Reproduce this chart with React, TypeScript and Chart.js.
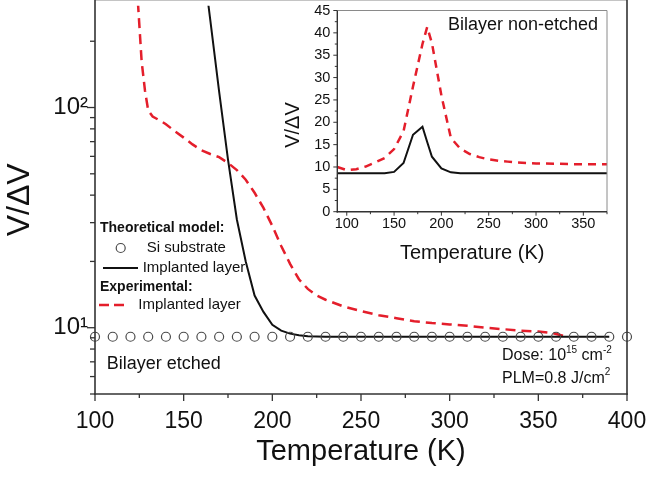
import React, { useEffect, useRef } from 'react';
import { Chart, registerables } from 'chart.js';

Chart.register(...registerables);

// ---------- Main chart data (Bilayer etched) ----------
const siTemps = [100, 110, 120, 130, 140, 150, 160, 170, 180, 190, 200, 210, 220, 230, 240, 250, 260, 270, 280, 290, 300, 310, 320, 330, 340, 350, 360, 370, 380, 390, 400];
const siValues = [9.1, 9.1, 9.1, 9.1, 9.1, 9.1, 9.1, 9.1, 9.1, 9.1, 9.1, 9.1, 9.1, 9.1, 9.1, 9.1, 9.1, 9.1, 9.1, 9.1, 9.1, 9.1, 9.1, 9.1, 9.1, 9.1, 9.1, 9.1, 9.1, 9.1, 9.1];

const theoTemps = [160, 165, 170, 175, 180, 185, 190, 195, 200, 205, 210, 215, 220, 230, 240, 250, 260, 270, 280, 290, 300, 310, 320, 330, 340, 350, 360, 370, 380, 390];
const theoValues = [525, 250, 118, 58, 31, 20, 14, 11.8, 10.3, 9.7, 9.4, 9.25, 9.15, 9.1, 9.1, 9.1, 9.1, 9.1, 9.1, 9.1, 9.1, 9.1, 9.1, 9.1, 9.1, 9.1, 9.1, 9.1, 9.1, 9.1];

const expTemps = [123, 124.3, 126.3, 128.2, 130, 132.5, 137.5, 140, 145, 150, 155, 160, 165, 170, 175, 180, 185, 190, 195, 200, 205, 210, 215, 220, 225, 230, 240, 250, 260, 270, 280, 290, 300, 310, 320, 330, 340, 350, 358, 366];
const expValues = [420, 292, 162, 119, 97, 91, 86.5, 84, 78, 73, 68, 64, 61.5, 59.5, 56, 52, 47, 41, 35, 29, 23.5, 19.5, 16.6, 15, 14, 13.4, 12.5, 11.9, 11.4, 11.05, 10.7, 10.5, 10.35, 10.2, 10.0, 9.85, 9.7, 9.6, 9.45, 9.1];

const mainLogTickLabels: Record<number, string> = { 10: '10¹', 100: '10²' };

// ---------- Inset data (Bilayer non-etched) ----------
const insetTemps = [90, 100, 110, 120, 130, 140, 150, 160, 170, 180, 185, 190, 200, 210, 220, 230, 240, 250, 260, 270, 280, 290, 300, 325, 350, 375];
const insetExp = [10.0, 9.3, 9.5, 10.1, 11.0, 12.0, 14.0, 18.0, 28.0, 37.5, 41.3, 37.7, 26.0, 16.5, 14.1, 12.9, 12.2, 11.7, 11.4, 11.2, 11.0, 10.9, 10.8, 10.7, 10.6, 10.6];
const insetTheo = [8.6, 8.6, 8.6, 8.6, 8.6, 8.6, 8.9, 10.9, 17.2, 19.0, 15.6, 12.3, 9.7, 8.8, 8.6, 8.6, 8.6, 8.6, 8.6, 8.6, 8.6, 8.6, 8.6, 8.6, 8.6, 8.6];

const FONT = '"Liberation Sans", Arial, Helvetica, sans-serif';
const RED = '#e41e2b';
const BLACK = '#111111';
const AXIS = '#333333';

const pts = (xs: number[], ys: number[]) => xs.map((x, i) => ({ x, y: ys[i] }));

function seg(ctx: CanvasRenderingContext2D, x1: number, y1: number, x2: number, y2: number) {
  ctx.beginPath();
  ctx.moveTo(x1, y1);
  ctx.lineTo(x2, y2);
  ctx.stroke();
}

const mainDeco = {
  id: 'mainDeco',
  afterDraw(chart: any) {
    const { ctx, chartArea } = chart;
    const { left, right, bottom } = chartArea;
    const xs = chart.scales.x;
    const ys = chart.scales.y;
    ctx.save();
    // frame
    ctx.strokeStyle = '#c4c4c4';
    ctx.lineWidth = 1;
    seg(ctx, left, 0.5, right, 0.5);
    ctx.strokeStyle = AXIS;
    ctx.lineWidth = 1.6;
    seg(ctx, left, 0, left, bottom + 0.8);
    seg(ctx, left - 0.8, bottom, right + 0.8, bottom);
    seg(ctx, right, 0, right, bottom + 0.8);
    // ticks
    ctx.lineWidth = 1.3;
    xs.ticks.forEach((t: any) => {
      const px = xs.getPixelForValue(t.value);
      const len = t.value % 50 === 0 ? 7 : 4;
      seg(ctx, px, bottom, px, bottom + len);
    });
    ys.ticks.forEach((t: any) => {
      const v = t.value;
      const e = Math.floor(Math.log10(v) + 1e-9);
      const m = v / Math.pow(10, e);
      if (Math.abs(m - Math.round(m)) > 1e-6) return;
      const py = ys.getPixelForValue(v);
      const len = Math.round(m) === 1 ? 8 : 5;
      seg(ctx, left - len, py, left, py);
    });

    // legend
    const ds = chart.data.datasets;
    ctx.fillStyle = BLACK;
    ctx.textBaseline = 'middle';
    ctx.textAlign = 'left';
    ctx.font = `bold 14px ${FONT}`;
    ctx.fillText('Theoretical model:', 100, 228);
    ctx.beginPath();
    ctx.arc(120.7, 248, 4.5, 0, Math.PI * 2);
    ctx.strokeStyle = ds[0].pointBorderColor;
    ctx.lineWidth = 1.2;
    ctx.stroke();
    ctx.font = `15px ${FONT}`;
    ctx.fillText(ds[0].label, 146.7, 248);
    ctx.strokeStyle = ds[1].borderColor;
    ctx.lineWidth = 2;
    seg(ctx, 103, 268, 138, 268);
    ctx.fillText(ds[1].label, 142.7, 268);
    ctx.font = `bold 14px ${FONT}`;
    ctx.fillText('Experimental:', 100, 286.7);
    ctx.strokeStyle = ds[2].borderColor;
    ctx.lineWidth = 2.5;
    ctx.setLineDash([10, 5]);
    seg(ctx, 99, 305, 125, 305);
    ctx.setLineDash([]);
    ctx.font = `15px ${FONT}`;
    ctx.fillText(ds[2].label, 138.3, 305);

    // annotations
    ctx.font = `18px ${FONT}`;
    ctx.fillText('Bilayer etched', 106.7, 364);

    const drawRich = (parts: [string, boolean][], x: number, y: number) => {
      let cx = x;
      parts.forEach(([txt, sup]) => {
        ctx.font = sup ? `10px ${FONT}` : `16px ${FONT}`;
        ctx.fillText(txt, cx, sup ? y - 6 : y);
        cx += ctx.measureText(txt).width;
      });
    };
    drawRich([['Dose: 10', false], ['15', true], [' cm', false], ['-2', true]], 502, 356);
    drawRich([['PLM=0.8 J/cm', false], ['2', true]], 502, 378.5);
    ctx.restore();
  },
};

const insetDeco = {
  id: 'insetDeco',
  afterDraw(chart: any) {
    const { ctx, chartArea } = chart;
    const { left, right, top, bottom } = chartArea;
    const xs = chart.scales.x;
    const ys = chart.scales.y;
    ctx.save();
    ctx.strokeStyle = '#8a8a8a';
    ctx.lineWidth = 1;
    seg(ctx, left, top, right, top);
    seg(ctx, right, top, right, bottom);
    ctx.strokeStyle = AXIS;
    ctx.lineWidth = 1.4;
    seg(ctx, left, top, left, bottom + 0.7);
    seg(ctx, left - 0.7, bottom, right, bottom);
    ctx.lineWidth = 1;
    xs.ticks.forEach((t: any) => {
      const px = xs.getPixelForValue(t.value);
      const len = t.value % 50 === 0 ? 4 : 2.5;
      seg(ctx, px, bottom, px, bottom + len);
    });
    ys.ticks.forEach((t: any) => {
      const py = ys.getPixelForValue(t.value);
      const len = t.value % 5 === 0 ? 4 : 2.5;
      seg(ctx, left - len, py, left, py);
    });
    ctx.fillStyle = BLACK;
    ctx.textBaseline = 'middle';
    ctx.textAlign = 'left';
    ctx.font = `18px ${FONT}`;
    ctx.fillText('Bilayer non-etched', 168, 25);
    // y title
    ctx.translate(13.5, 125);
    ctx.rotate(-Math.PI / 2);
    ctx.textAlign = 'center';
    ctx.font = `20px ${FONT}`;
    ctx.fillText('V/ΔV', 0, 0);
    ctx.restore();
  },
};

export default function App() {
  const mainRef = useRef<HTMLCanvasElement>(null);
  const insetRef = useRef<HTMLCanvasElement>(null);

  useEffect(() => {
    const main = new Chart(mainRef.current as HTMLCanvasElement, {
      type: 'scatter',
      data: {
        datasets: [
          {
            label: 'Si substrate',
            data: pts(siTemps, siValues),
            showLine: false,
            pointRadius: 4.5,
            pointStyle: 'circle',
            pointBorderColor: '#4a4a4a',
            pointBackgroundColor: 'rgba(0,0,0,0)',
            pointBorderWidth: 1.2,
            clip: false,
          } as any,
          {
            label: 'Implanted layer',
            data: pts(theoTemps, theoValues),
            showLine: true,
            borderColor: BLACK,
            borderWidth: 2,
            pointRadius: 0,
            tension: 0,
          },
          {
            label: 'Implanted layer',
            data: pts(expTemps, expValues),
            showLine: true,
            borderColor: RED,
            borderWidth: 2.5,
            borderDash: [10, 6],
            pointRadius: 0,
            tension: 0,
          },
        ],
      },
      options: {
        responsive: false,
        animation: false,
        devicePixelRatio: 1,
        events: [],
        layout: { padding: { left: 0, top: 1, right: 19, bottom: 0 } },
        plugins: { legend: { display: false }, tooltip: { enabled: false } },
        scales: {
          x: {
            type: 'linear',
            position: 'bottom',
            min: 100,
            max: 400,
            grid: { display: false, drawTicks: false },
            border: { display: false },
            ticks: {
              stepSize: 25,
              autoSkip: false,
              maxRotation: 0,
              padding: 13.5,
              color: BLACK,
              font: { family: FONT, size: 23 },
              callback: (v: any) => (Number(v) % 50 === 0 ? String(v) : ''),
            },
            title: {
              display: true,
              text: 'Temperature (K)',
              color: BLACK,
              font: { family: FONT, size: 29 },
              padding: { top: 0, bottom: 9 },
            },
            afterFit: (s: any) => {
              s.height = 84;
              s.paddingLeft = 0;
              s.paddingRight = 0;
            },
          },
          y: {
            type: 'logarithmic',
            position: 'left',
            min: 5,
            max: 290,
            grid: { display: false, drawTicks: false },
            border: { display: false },
            ticks: {
              autoSkip: false,
              padding: 7,
              color: BLACK,
              font: { family: FONT, size: 24 },
              callback: (v: any) => {
                const n = Number(v);
                const key = Object.keys(mainLogTickLabels).find((k) => Math.abs(Number(k) - n) < 1e-9);
                return key ? mainLogTickLabels[Number(key)] : '';
              },
            },
            title: {
              display: true,
              text: 'V/ΔV',
              color: BLACK,
              font: { family: FONT, size: 32 },
              padding: { top: 1, bottom: 0 },
            },
            afterFit: (s: any) => {
              s.width = 95;
              s.paddingTop = 0;
              s.paddingBottom = 0;
            },
          },
        },
      } as any,
      plugins: [mainDeco],
    });

    const inset = new Chart(insetRef.current as HTMLCanvasElement, {
      type: 'scatter',
      data: {
        datasets: [
          {
            label: 'Experimental',
            data: pts(insetTemps, insetExp),
            showLine: true,
            borderColor: RED,
            borderWidth: 2.5,
            borderDash: [8, 6],
            pointRadius: 0,
            tension: 0,
          },
          {
            label: 'Theoretical',
            data: pts(insetTemps, insetTheo),
            showLine: true,
            borderColor: BLACK,
            borderWidth: 2,
            pointRadius: 0,
            tension: 0,
          },
        ],
      },
      options: {
        responsive: false,
        animation: false,
        devicePixelRatio: 1,
        events: [],
        layout: { padding: { left: 0, top: 10.5, right: 19, bottom: 0 } },
        plugins: { legend: { display: false }, tooltip: { enabled: false } },
        scales: {
          x: {
            type: 'linear',
            position: 'bottom',
            min: 90,
            max: 375,
            grid: { display: false, drawTicks: false },
            border: { display: false },
            ticks: {
              stepSize: 25,
              includeBounds: false,
              autoSkip: false,
              maxRotation: 0,
              padding: 3.5,
              color: BLACK,
              font: { family: FONT, size: 14.5 },
              callback: (v: any) => (Number(v) % 50 === 0 ? String(v) : ''),
            },
            title: {
              display: true,
              text: 'Temperature (K)',
              color: BLACK,
              font: { family: FONT, size: 20 },
              padding: { top: 0, bottom: 5 },
            },
            afterFit: (s: any) => {
              s.height = 58.3;
              s.paddingLeft = 0;
              s.paddingRight = 0;
            },
          },
          y: {
            type: 'linear',
            position: 'left',
            min: 0,
            max: 45,
            grid: { display: false, drawTicks: false },
            border: { display: false },
            ticks: {
              stepSize: 2.5,
              includeBounds: false,
              autoSkip: false,
              padding: 7,
              color: BLACK,
              font: { family: FONT, size: 14.5 },
              callback: (v: any) => (Number(v) % 5 === 0 ? String(v) : ''),
            },
            title: { display: false },
            afterFit: (s: any) => {
              s.width = 57.3;
              s.paddingTop = 0;
              s.paddingBottom = 0;
            },
          },
        },
      } as any,
      plugins: [insetDeco],
    });

    return () => {
      main.destroy();
      inset.destroy();
    };
  }, []);

  return (
    <div style={{ position: 'fixed', left: 0, top: 0, width: 646, height: 478, background: '#ffffff', overflow: 'hidden' }}>
      <canvas ref={mainRef} width={646} height={478} style={{ position: 'absolute', left: 0, top: 0, width: 646, height: 478 }} />
      <canvas ref={insetRef} width={346} height={270} style={{ position: 'absolute', left: 280, top: 0, width: 346, height: 270 }} />
    </div>
  );
}
